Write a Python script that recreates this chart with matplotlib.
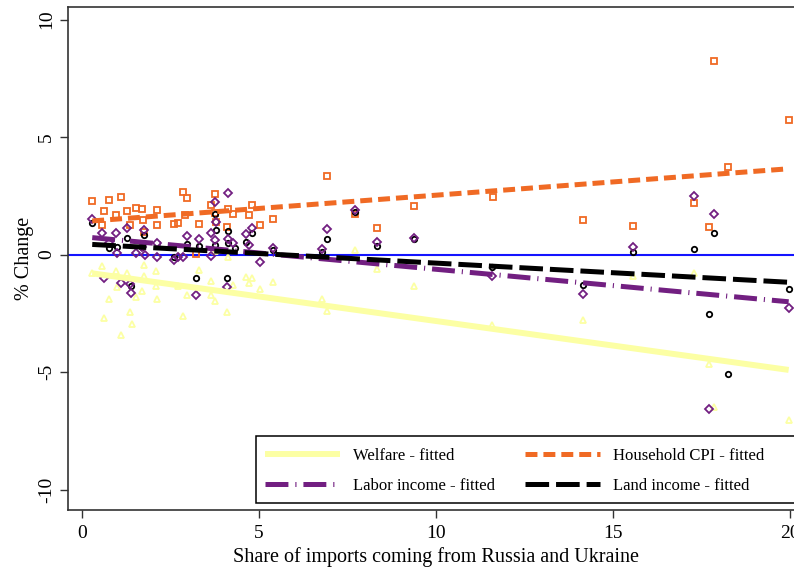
import matplotlib
matplotlib.use("Agg")
import matplotlib.pyplot as plt
from matplotlib.patches import Rectangle

plt.rcParams["font.family"] = ["Liberation Serif", "DejaVu Serif"]
plt.rcParams["lines.scale_dashes"] = False
plt.rcParams["axes.unicode_minus"] = False

# scatter data: share of imports (x) vs % change (y), one list pair per outcome
welfare_x = [0.29, 0.57, 0.95, 1.28, 1.75, 2.10, 1.75, 1.00, 1.53, 1.69, 0.76, 2.12, 1.35, 0.62,
             1.41, 1.11, 2.10, 3.76, 4.13, 3.31, 3.64, 4.63, 4.79, 4.73, 5.03, 4.27, 2.96, 3.64,
             3.76, 4.09, 2.84, 2.72, 5.39, 6.77, 6.91, 7.71, 8.32, 9.39, 11.59, 14.16, 15.56,
             17.30, 17.71, 17.84, 19.96]
welfare_y = [-0.78, -0.49, -0.69, -0.77, -0.91, -0.70, -0.45, -1.40, -1.79, -1.54, -1.91, -1.91,
             -2.43, -2.72, -2.97, -3.43, -1.34, 0.16, -0.12, -0.66, -1.11, -0.97, -1.01, -1.20,
             -1.48, -1.30, -1.72, -1.72, -1.96, -2.43, -2.62, -1.34, -1.16, -1.91, -2.39, 0.19,
             -0.62, -1.33, -3.00, -2.79, -0.91, -0.80, -4.66, -6.48, -7.04]

cpi_x = [0.29, 0.75, 1.11, 0.62, 1.27, 1.53, 1.69, 2.11, 0.95, 1.35, 1.73, 2.13, 1.75, 0.57,
         2.84, 2.96, 3.76, 3.64, 4.12, 4.27, 4.79, 4.73, 5.03, 3.31, 2.72, 2.61, 2.91, 3.76,
         4.09, 3.22, 3.78, 5.39, 6.91, 7.71, 8.32, 9.39, 11.60, 14.16, 15.56, 17.84, 19.96,
         18.25, 17.30, 17.71]
cpi_y = [2.29, 2.32, 2.43, 1.85, 1.85, 1.98, 1.95, 1.89, 1.68, 1.26, 1.47, 1.26, 0.97, 1.25,
         2.65, 2.42, 2.56, 2.11, 1.92, 1.72, 2.11, 1.68, 1.26, 1.30, 1.35, 1.28, 1.68, 1.75,
         1.18, 0.02, 1.40, 1.52, 3.34, 1.71, 1.14, 2.06, 2.45, 1.47, 1.20, 8.23, 5.71, 3.71,
         2.19, 1.18]

labor_x = [0.29, 0.57, 0.95, 1.28, 1.75, 0.76, 1.00, 1.53, 1.77, 2.12, 2.12, 0.62, 1.11, 1.35,
           1.39, 1.69, 4.13, 3.76, 2.96, 3.31, 3.64, 3.76, 4.12, 4.27, 4.63, 4.79, 4.73, 5.03,
           2.61, 2.72, 2.84, 3.64, 3.22, 4.09, 3.78, 5.39, 6.91, 6.77, 7.71, 8.32, 9.39, 11.59,
           14.16, 15.56, 17.30, 17.84, 19.96, 17.71]
labor_y = [1.50, 0.90, 0.90, 1.11, 1.04, 0.48, 0.08, 0.05, -0.02, 0.48, -0.12, -1.01, -1.20,
           -1.26, -1.65, 0.31, 2.60, 2.25, 0.79, 0.65, 0.93, 0.62, 0.65, 0.48, 0.87, 1.11, 0.40,
           -0.31, -0.23, -0.09, -0.09, -0.06, -1.72, -1.37, 1.40, 0.29, 1.07, 0.22, 1.89, 0.55,
           0.72, -0.90, -1.68, 0.31, 2.49, 1.74, -2.26, -6.59]

land_x = [0.29, 0.75, 1.28, 1.75, 1.39, 1.69, 1.00, 3.76, 3.79, 4.13, 4.12, 4.63, 4.79, 2.96,
          3.31, 3.76, 4.32, 3.22, 4.09, 2.61, 5.39, 6.91, 6.77, 7.71, 8.32, 9.39, 11.59, 14.16,
          15.56, 17.30, 17.84, 19.96, 17.71, 18.25]
land_y = [1.33, 0.26, 0.71, 0.83, -1.34, 0.31, 0.30, 1.71, 1.04, 1.01, 0.48, 0.55, 0.90, 0.45,
          0.36, 0.40, 0.26, -1.01, -1.01, -0.09, 0.20, 0.65, 0.10, 1.80, 0.36, 0.65, -0.52,
          -1.30, 0.12, 0.23, 0.91, -1.48, -2.55, -5.09]

# linear fits, evaluated at the ends of the x range
fit_x = [0.29, 19.96]
welfare_fit = [-0.80, -4.91]
cpi_fit = [1.43, 3.65]
labor_fit = [0.72, -2.01]
land_fit = [0.43, -1.18]

c_welfare = "#FCFFA4"
c_cpi = "#F06A24"
c_labor = "#721F81"
c_land = "#000000"

fig = plt.figure(figsize=(7.94, 5.71), dpi=100)
ax = fig.add_axes([0.0854, 0.1077, 0.9275, 0.8807])

ax.axhline(0, color="#1414ff", lw=1.5, zorder=1)

mk = dict(linestyle="none", markerfacecolor="none", markeredgewidth=1.3, zorder=2)
ax.plot(welfare_x, welfare_y, marker="^", ms=4.8, markeredgecolor=c_welfare, **mk)
ax.plot(cpi_x, cpi_y, marker="s", ms=3.9, markeredgecolor=c_cpi, **mk)
ax.plot(land_x, land_y, marker="o", ms=3.9, markeredgecolor=c_land, **mk)
ax.plot(labor_x, labor_y, marker="D", ms=3.7, markeredgecolor=c_labor, **mk)

l_w, = ax.plot(fit_x, welfare_fit, color=c_welfare, lw=4.3, solid_capstyle="butt",
               zorder=3, label="Welfare - fitted")
l_c, = ax.plot(fit_x, cpi_fit, color=c_cpi, lw=3.6, dashes=(8.6, 4.3), zorder=3,
               label="Household CPI - fitted")
l_l, = ax.plot(fit_x, labor_fit, color=c_labor, lw=3.6, dashes=(16.5, 5, 0.8, 5), zorder=3,
               label="Labor income - fitted")
l_d, = ax.plot(fit_x, land_fit, color=c_land, lw=3.6, dashes=(17, 5), zorder=3,
               label="Land income - fitted")

ax.set_xlim(-0.4, 20.4)
ax.set_ylim(-10.85, 10.55)
ax.set_xticks([0, 5, 10, 15, 20])
ax.set_yticks([-10, -5, 0, 5, 10])
ax.tick_params(labelsize=14, length=6, width=1, pad=5, color="#333333")
ax.tick_params(axis="y", pad=3)
for lab in ax.get_yticklabels():
    lab.set_rotation(90)
    lab.set_va("center")
for s in ax.spines.values():
    s.set_linewidth(1.2)
    s.set_color("#333333")

ax.set_xlabel("Share of imports coming from Russia and Ukraine", fontsize=14.5, labelpad=4)
ax.set_ylabel("% Change", fontsize=14.5, labelpad=3)

# legend box reaches past the right edge of the figure
fig.patches.append(Rectangle((0.3224, 0.1191), 0.70, 0.1173, transform=fig.transFigure,
                             facecolor="white", edgecolor="black", lw=1.1, zorder=5))
fig.legend([l_w, l_l, l_c, l_d],
           ["Welfare - fitted", "Labor income - fitted", "Household CPI - fitted",
            "Land income - fitted"],
           ncol=2, loc="upper left", bbox_to_anchor=(0.3338, 0.2154), frameon=False,
           fontsize=12, handlelength=4.5, handletextpad=0.8, columnspacing=1.75,
           labelspacing=0.84, borderpad=0, borderaxespad=0)

fig.savefig("out.png", dpi=100)
